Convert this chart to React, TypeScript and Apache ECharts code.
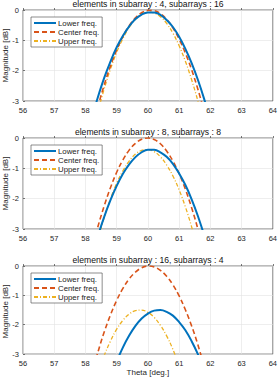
import React, { useEffect, useRef } from "react";
import * as echarts from "echarts";

// Beam cuts around the 60° steering angle, three subarray configurations
const theta = [58.2, 58.4, 58.6, 58.8, 59.0, 59.2, 59.4, 59.6, 59.8, 60.0, 60.2, 60.4, 60.6, 60.8, 61.0, 61.2, 61.4, 61.6, 61.8, 62.0];

const titles = [
  "elements in subarray : 4, subarrays : 16",
  "elements in subarray : 8, subarrays : 8",
  "elements in subarray : 16, subarrays : 4",
];

const seriesNames = ["Lower freq.", "Center freq.", "Upper freq."];

// 4 elements / 16 subarrays
const lower4 = [-3.57, -2.87, -2.24, -1.70, -1.23, -0.85, -0.54, -0.30, -0.15, -0.08, -0.08, -0.16, -0.33, -0.56, -0.88, -1.28, -1.75, -2.30, -2.93, -3.64];
const center4 = [-3.99, -3.19, -2.47, -1.85, -1.32, -0.87, -0.52, -0.26, -0.09, -0.01, -0.02, -0.12, -0.31, -0.59, -0.96, -1.42, -1.97, -2.61, -3.34, null];
const upper4 = [null, -3.35, -2.60, -1.95, -1.39, -0.94, -0.57, -0.31, -0.14, -0.07, -0.10, -0.22, -0.44, -0.76, -1.18, -1.69, -2.30, -3.00, -3.80, null];

// 8 elements / 8 subarrays
const lower8 = [-3.94, -3.23, -2.60, -2.05, -1.58, -1.18, -0.87, -0.63, -0.47, -0.39, -0.39, -0.47, -0.62, -0.85, -1.17, -1.55, -2.02, -2.57, -3.20, null];
const center8 = [-3.71, -2.92, -2.24, -1.64, -1.13, -0.72, -0.40, -0.18, -0.04, 0.0, -0.05, -0.19, -0.43, -0.76, -1.18, -1.69, -2.30, -3.00, -3.79, null];
const upper8 = [null, -3.33, -2.62, -2.01, -1.49, -1.08, -0.76, -0.53, -0.41, -0.38, -0.45, -0.62, -0.89, -1.25, -1.71, -2.27, -2.93, -3.68, null, null];

// 16 elements / 4 subarrays
const lower16 = [null, null, null, null, -3.25, -2.77, -2.37, -2.04, -1.79, -1.62, -1.52, -1.50, -1.56, -1.69, -1.91, -2.19, -2.56, -3.00, -3.52, null];
const center16 = [-3.69, -2.93, -2.25, -1.67, -1.17, -0.76, -0.44, -0.21, -0.06, 0.0, -0.03, -0.15, -0.35, -0.64, -1.02, -1.49, -2.04, -2.68, -3.41, null];
const upper16 = [null, -3.65, -3.05, -2.56, -2.15, -1.85, -1.64, -1.52, -1.50, -1.58, -1.75, -2.02, -2.38, -2.84, -3.40, null, null, null, null, null];

const xTicks = [56, 57, 58, 59, 60, 61, 62, 63, 64];
const yTicks = [-3, -2, -1, 0];

const panels = [
  [lower4, center4, upper4],
  [lower8, center8, upper8],
  [lower16, center16, upper16],
];

const colors = ["#0072BD", "#D95319", "#EDB120"];
const lineStyles: any[] = [
  { width: 2, type: "solid" },
  { width: 1.6, type: [5, 3] },
  { width: 1.3, type: [4, 2, 1, 2] },
];

const FONT = "Liberation Sans, Arial, sans-serif";
const gridTops = [10, 138, 266];
const gridH = 91;
const gridLeft = 23;
const gridRight = 7;
const plotCenterX = gridLeft + (280 - gridLeft - gridRight) / 2;

export default function App() {
  const ref = useRef<HTMLDivElement>(null);

  useEffect(() => {
    if (!ref.current) return;
    const chart = echarts.init(ref.current, undefined, { renderer: "svg" });

    const grids = gridTops.map((top) => ({
      left: gridLeft,
      right: gridRight,
      top,
      height: gridH,
      show: true,
      borderColor: "#404040",
      borderWidth: 0.7,
      backgroundColor: "#fff",
    }));

    const xAxes = gridTops.map((_, i) => ({
      type: "value",
      gridIndex: i,
      min: xTicks[0],
      max: xTicks[xTicks.length - 1],
      interval: 1,
      axisLine: { show: false },
      axisTick: { show: true, inside: true, length: 2, lineStyle: { color: "#404040", width: 0.7 } },
      axisLabel: { fontSize: 7.5, color: "#262626", margin: 5, fontFamily: FONT, hideOverlap: false },
      splitLine: { show: true, lineStyle: { color: "#e3e3e3", width: 0.6 } },
      name: i === 2 ? "Theta [deg.]" : "",
      nameLocation: "middle",
      nameGap: 12,
      nameTextStyle: { fontSize: 8, color: "#262626", fontFamily: FONT },
    }));

    const yAxes = gridTops.map((_, i) => ({
      type: "value",
      gridIndex: i,
      min: yTicks[0],
      max: yTicks[yTicks.length - 1],
      interval: 1,
      axisLine: { show: false },
      axisTick: { show: true, inside: true, length: 2, lineStyle: { color: "#404040", width: 0.7 } },
      axisLabel: {
        fontSize: 7.5,
        color: "#262626",
        margin: 4,
        fontFamily: FONT,
        hideOverlap: false,
        showMinLabel: true,
        showMaxLabel: true,
      },
      splitLine: { show: true, lineStyle: { color: "#e3e3e3", width: 0.6 } },
    }));

    // Rotated y-axis titles, one per panel
    const yNames = gridTops.map((top) => ({
      type: "text",
      x: 5,
      y: top + gridH / 2,
      rotation: Math.PI / 2,
      style: {
        text: "Magnitude [dB]",
        fontSize: 8,
        fill: "#262626",
        fontFamily: FONT,
        align: "center",
        verticalAlign: "middle",
      },
    }));

    const series: any[] = [];
    panels.forEach((panel, gi) => {
      panel.forEach((vals, si) => {
        series.push({
          type: "line",
          name: seriesNames[si],
          xAxisIndex: gi,
          yAxisIndex: gi,
          data: theta.map((t, k) => [t, vals[k]]),
          showSymbol: false,
          symbol: "none",
          smooth: 0.4,
          clip: true,
          color: colors[si],
          lineStyle: { color: colors[si], ...lineStyles[si] },
          z: 3 - si,
        });
      });
    });

    const legends = gridTops.map((top) => ({
      orient: "vertical",
      left: gridLeft + 8,
      top: top + 7,
      data: seriesNames,
      backgroundColor: "#fff",
      borderColor: "#404040",
      borderWidth: 0.6,
      borderRadius: 0,
      padding: [2, 3, 2, 2],
      itemGap: 1,
      itemWidth: 22,
      itemHeight: 8,
      selectedMode: false,
      itemStyle: { opacity: 0 },
      textStyle: { fontSize: 7.8, color: "#222", fontFamily: FONT, padding: [0, 0, 0, -3] },
    }));

    const titleOpts = gridTops.map((top, i) => ({
      text: titles[i],
      left: plotCenterX,
      textAlign: "center",
      top: top - 10.5,
      padding: 0,
      textStyle: { fontSize: 8.6, fontWeight: "normal", color: "#111", fontFamily: FONT },
    }));

    chart.setOption({
      animation: false,
      backgroundColor: "#fff",
      title: titleOpts,
      grid: grids,
      xAxis: xAxes,
      yAxis: yAxes,
      legend: legends,
      graphic: yNames,
      series,
    });

    return () => chart.dispose();
  }, []);

  return (
    <div
      ref={ref}
      style={{ position: "absolute", left: 0, top: 0, width: 280, height: 377 }}
    />
  );
}
